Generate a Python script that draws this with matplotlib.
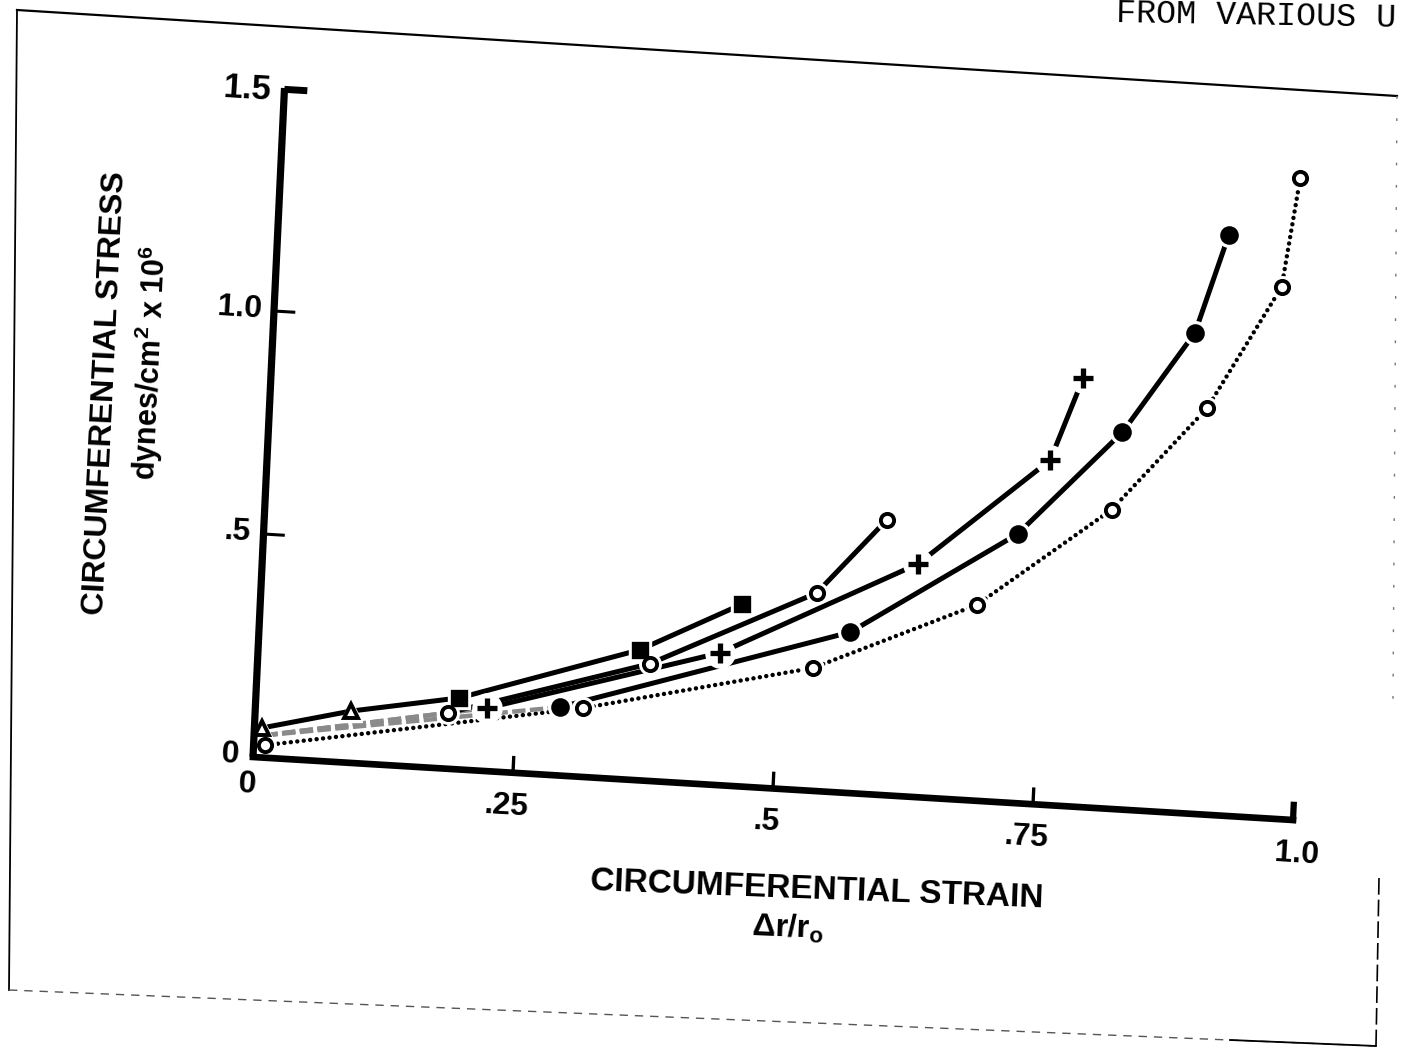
import matplotlib
matplotlib.use('Agg')
import matplotlib.pyplot as plt
from matplotlib.transforms import Affine2D

# circumferential strain (dr/r0) vs circumferential stress (dynes/cm^2 x 10^6)
tri_x = [0.007, 0.092]
tri_y = [0.066, 0.116]
sq_x = [0.092, 0.195, 0.366, 0.462]
sq_y = [0.116, 0.160, 0.292, 0.408]
ocirc_x = [0.010, 0.185, 0.376, 0.533, 0.597]
ocirc_y = [0.050, 0.125, 0.262, 0.443, 0.616]
plus_x = [0.010, 0.222, 0.443, 0.629, 0.751, 0.779]
plus_y = [0.050, 0.141, 0.296, 0.522, 0.772, 0.960]
fcirc_x = [0.010, 0.292, 0.567, 0.723, 0.819, 0.884, 0.912]
fcirc_y = [0.050, 0.153, 0.360, 0.602, 0.844, 1.076, 1.299]
dot_x = [0.011, 0.314, 0.533, 0.687, 0.812, 0.899, 0.965, 0.978]
dot_y = [0.028, 0.154, 0.275, 0.438, 0.669, 0.909, 1.190, 1.436]

xticks = [0.25, 0.5, 0.75, 1.0]
xticklabels = ['.25', '.5', '.75', '1.0']
yticks = [0.5, 1.0]
yticklabels = ['.5', '1.0']

plt.rcParams['font.family'] = ['Liberation Sans', 'DejaVu Sans']
plt.rcParams['mathtext.default'] = 'regular'

W, H = 1415, 1050
fig = plt.figure(figsize=(W / 100, H / 100), dpi=100)
ax = fig.add_axes([0, 0, 1, 1])
ax.set_xlim(0, W)
ax.set_ylim(H, 0)
ax.axis('off')

# the sheet sits skewed on the copy: strain/stress -> page pixels
T = Affine2D.from_values(1040, 63, 21, -446, 253, 757) + ax.transData
XROT = -3.5   # direction of the strain axis on the page
YROT = 87.3   # direction of the stress axis

# paper edge / copier frame
ax.plot([17, 1397], [10, 96], color='black', lw=1.6)
ax.plot([17, 9], [10, 990], color='black', lw=1.3)
ax.plot([9, 1376], [990, 1046], color='#555555', lw=1.0, ls=(0, (6, 5)))
ax.plot([1230, 1376], [1040, 1046], color='black', lw=1.3)
ax.plot([1379, 1376], [878, 1046], color='black', lw=1.2, ls=(0, (10, 3)))
ax.plot([1397, 1393], [96, 700], color='#777777', lw=1.0, ls=(0, (2, 14)))
ax.text(1116, 27, 'FROM VARIOUS U', family='Liberation Mono', fontsize=24,
        color='black', ha='left', va='baseline', rotation=-1.0)

# axes drawn by hand, they follow the skew of the page
ax.plot([0, 0], [0, 1.5], color='black', lw=5.2, transform=T,
        solid_capstyle='butt', zorder=5)
ax.plot([0, 1.0], [0, 0], color='black', lw=4.8, transform=T,
        solid_capstyle='projecting', zorder=5)
ax.plot([0, 0.022], [1.497, 1.497], color='black', lw=5, transform=T,
        solid_capstyle='butt', zorder=5)
for t in yticks:
    ax.plot([0, 0.019], [t, t], color='black', lw=2.2, transform=T, zorder=5)
for t in xticks:
    ax.plot([t, t], [0, 0.034], color='black',
            lw=4.5 if t == 1.0 else 2.4, transform=T, zorder=5)

tick_font = dict(fontsize=23, fontweight='bold', transform=T)
for t, lab in zip(xticks, xticklabels):
    ax.text(t + (0.005 if t == 1.0 else -0.005), -0.076, lab, ha='center',
            va='center', rotation=XROT, **tick_font)
ax.text(-0.004, -0.063, '0', ha='center', va='center', rotation=XROT, **tick_font)
ax.text(-0.011, 1.497, '1.5', ha='right', va='center', rotation=XROT,
        fontsize=25, fontweight='bold', transform=T)
for t, lab in zip(yticks, yticklabels):
    ax.text(-0.011, t + 0.004, lab, ha='right', va='center', rotation=XROT,
            **tick_font)
ax.text(-0.013, 0.003, '0', ha='right', va='center', rotation=XROT, **tick_font)

ax.text(-0.158, 0.794, 'CIRCUMFERENTIAL STRESS', fontsize=23, fontweight='bold',
        ha='center', va='center', rotation=YROT, transform=T)
ax.text(-0.116, 0.867, 'dynes/cm$^2$ x 10$^6$', fontsize=22, fontweight='bold',
        ha='center', va='center', rotation=YROT, transform=T)
ax.text(0.547, -0.221, 'CIRCUMFERENTIAL STRAIN', fontsize=24, fontweight='bold',
        ha='center', va='center', rotation=-2.2, transform=T)
ax.text(0.520, -0.310, 'Δr/r$_o$', fontsize=23, fontweight='bold',
        ha='center', va='center', rotation=-2.2, transform=T)


def curve(x, y, marker, filled=True, ms=10, mew=2.4, ls='-', lw=3.6,
          plain_first=False, faded_first=False):
    start = 1 if plain_first else 0
    if faded_first:
        ax.plot(x[:2], y[:2], color='#8a8a8a', lw=3.2, ls=(0, (3, 1)),
                transform=T, zorder=2)
        ax.plot(x[1:], y[1:], color='black', lw=lw, ls=ls, transform=T,
                zorder=2, dash_capstyle='round')
    else:
        ax.plot(x, y, color='black', lw=lw, ls=ls, transform=T, zorder=2,
                dash_capstyle='round')
    mx, my = x[start:], y[start:]
    halo = 'o' if marker == '+' else marker
    ax.plot(mx, my, ls='none', marker=halo, ms=ms + 6, color='white',
            mec='white', transform=T, zorder=3)
    ax.plot(mx, my, ls='none', marker=marker, ms=ms,
            mfc='black' if filled else 'white', mec='black', mew=mew,
            transform=T, zorder=4)


dotted = (0, (0.01, 1.45))
curve(dot_x, dot_y, 'o', filled=False, ms=9.5, mew=2.8, ls=dotted, lw=3.2)
curve(fcirc_x, fcirc_y, 'o', filled=True, ms=11, plain_first=True,
      faded_first=True)
curve(plus_x, plus_y, '+', ms=15, mew=3.8, plain_first=True, faded_first=True)
curve(ocirc_x, ocirc_y, 'o', filled=False, ms=9.5, mew=2.8, plain_first=True,
      faded_first=True)
curve(sq_x, sq_y, 's', filled=True, ms=9.5, plain_first=True)
curve(tri_x, tri_y, '^', filled=False, ms=10, mew=2.8)

fig.savefig('out.png', dpi=100)
